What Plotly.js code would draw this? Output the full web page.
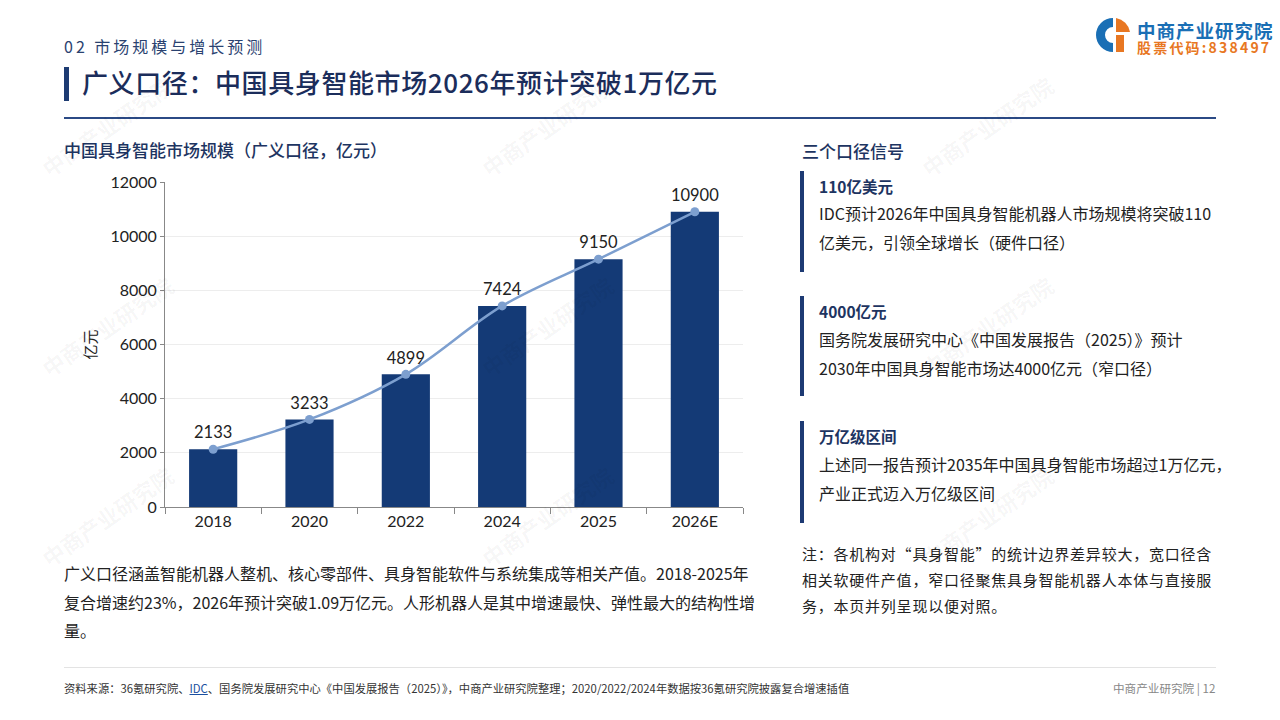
<!DOCTYPE html>
<html><head><meta charset="utf-8">
<script src="https://cdn.plot.ly/plotly-3.0.1.min.js"></script>
<style>
body{margin:0;width:1280px;height:720px;background:#fff;position:relative;overflow:hidden;font-family:"Noto Sans CJK SC","Noto Sans",sans-serif;}
.abs{position:absolute;white-space:nowrap;}
.sec{left:64px;top:35px;font-size:16px;line-height:22px;color:#2a4270;letter-spacing:3px;}
.tbar{left:64px;top:67px;width:5px;height:34px;background:#1d3b72;}
.title{left:82px;top:64px;font-size:26px;font-weight:500;color:#1b2d5b;line-height:36px;letter-spacing:0.6px;}
.rule{left:64px;top:117px;width:1152px;height:2px;background:#2b4a85;}
.sub{left:64px;top:138px;font-size:17px;line-height:24px;font-weight:500;color:#1d3461;}
.para{left:64px;top:559px;font-size:16px;color:#222;line-height:28.5px;}
.rhead{left:802px;top:139px;font-size:17px;line-height:24px;font-weight:500;color:#1d3461;}
.cbar{left:800px;width:4px;background:#1d3a73;}
.ctitle{left:819px;font-size:15.5px;line-height:22px;font-weight:700;color:#1d3461;}
.cbody{left:819px;font-size:16px;color:#222;line-height:28.5px;}
.note{left:802px;top:541px;font-size:15px;color:#222;line-height:26px;letter-spacing:0.77px;}
.frule{left:64px;top:667px;width:1152px;height:1px;background:#e3e3e3;}
.foot{left:64px;top:680px;font-size:11.3px;line-height:16px;color:#333;}
.foot u{color:#1a4fa0;}
.fright{left:1113px;top:680px;font-size:11.6px;line-height:16px;color:#888;}
.logo{left:1137px;top:22px;white-space:pre;font-size:14px;line-height:17px;font-weight:700;color:#e87722;letter-spacing:2.2px;}
.logo::first-line{font-size:18.5px;color:#1a6fb5;letter-spacing:1px;}
.wm{position:absolute;color:rgba(0,0,0,0.045);font-size:22px;font-weight:700;transform:rotate(-35deg);white-space:nowrap;}
</style></head><body>
<div class="abs sec">02 市场规模与增长预测</div>
<div class="abs tbar"></div>
<div class="abs title">广义口径：中国具身智能市场2026年预计突破1万亿元</div>
<div class="abs rule"></div>
<div class="abs sub">中国具身智能市场规模（广义口径，亿元）</div>

<svg class="abs" style="left:1094px;top:16px" width="38" height="38" viewBox="0 0 38 38">
  <path d="M19 2 A17 17 0 1 0 19 36 L19 27 A8 8 0 1 1 19 11 Z" fill="#1a6fb5"/>
  <path d="M22 2 A17 17 0 0 1 36 16 L22 16 Z" fill="#e87722"/>
  <rect x="22" y="19" width="8" height="17" fill="#e87722"/>
</svg>
<div class="abs logo">中商产业研究院
股票代码:838497</div>

<div id="chart" class="abs" style="left:60px;top:160px;width:700px;height:380px;"></div>

<div class="abs para">广义口径涵盖智能机器人整机、核心零部件、具身智能软件与系统集成等相关产值。2018-2025年<br>复合增速约23%，2026年预计突破1.09万亿元。人形机器人是其中增速最快、弹性最大的结构性增<br>量。</div>

<div class="abs rhead">三个口径信号</div>
<div class="abs cbar" style="top:171px;height:101px;"></div>
<div class="abs ctitle" style="top:175px;">110亿美元</div>
<div class="abs cbody" style="top:199px;">IDC预计2026年中国具身智能机器人市场规模将突破110<br>亿美元，引领全球增长（硬件口径）</div>
<div class="abs cbar" style="top:296px;height:100px;"></div>
<div class="abs ctitle" style="top:300px;">4000亿元</div>
<div class="abs cbody" style="top:325px;">国务院发展研究中心《中国发展报告（2025）》预计<br>2030年中国具身智能市场达4000亿元（窄口径）</div>
<div class="abs cbar" style="top:421px;height:102px;"></div>
<div class="abs ctitle" style="top:425px;">万亿级区间</div>
<div class="abs cbody" style="top:450px;">上述同一报告预计2035年中国具身智能市场超过1万亿元，<br>产业正式迈入万亿级区间</div>
<div class="abs note">注：各机构对“具身智能”的统计边界差异较大，宽口径含<br>相关软硬件产值，窄口径聚焦具身智能机器人本体与直接服<br>务，本页并列呈现以便对照。</div>

<div class="abs frule"></div>
<div class="abs foot">资料来源：36氪研究院、<u>IDC</u>、国务院发展研究中心《中国发展报告（2025）》，中商产业研究院整理；2020/2022/2024年数据按36氪研究院披露复合增速插值</div>
<div class="abs fright">中商产业研究院 | 12</div>

<script>
const categories = ["2018","2020","2022","2024","2025","2026E"];
const marketSize = [2133,3233,4899,7424,9150,10900];
const yTicks = [0,2000,4000,6000,8000,10000,12000];
const yTitle = "亿元";

// faint watermarks (interior only)
(function(){
  const spots=[[30,110],[470,110],[910,110],[30,310],[470,310],[910,310],[30,500],[470,500],[910,500]];
  spots.forEach(p=>{const d=document.createElement('div');d.className='wm';d.style.left=p[0]+'px';d.style.top=p[1]+'px';d.textContent='中商产业研究院';document.body.appendChild(d);});
})();

const numFont = 'Lato, "Noto Sans", sans-serif';
const traces = [
  {type:'bar', x:categories, y:marketSize, marker:{color:'#143a76'}, hoverinfo:'skip', showlegend:false},
  {type:'scatter', mode:'lines+markers+text', x:categories, y:marketSize,
   text:marketSize.map(String), textposition:'top center',
   textfont:{family:numFont,size:16.5,color:'#222'},
   line:{color:'#7d9fcf',width:2.5,shape:'spline',smoothing:1},
   marker:{color:'#7d9fcf',size:9}, showlegend:false, cliponaxis:false}
];
const layout = {
  width:700, height:380,
  margin:{l:105,r:17,t:22,b:33},
  paper_bgcolor:'rgba(0,0,0,0)', plot_bgcolor:'rgba(0,0,0,0)',
  bargap:0.5,
  font:{family:numFont,color:'#333',size:16},
  xaxis:{type:'category', showline:true, linecolor:'#888', linewidth:1,
         ticks:'outside', tickson:'boundaries', ticklen:6, tickcolor:'#888',
         tickfont:{family:numFont,size:16,color:'#222'}, showgrid:false, fixedrange:true},
  yaxis:{range:[0,12000], tickvals:yTicks, ticktext:yTicks.map(String),
         showline:true, linecolor:'#888', linewidth:1, ticks:'outside', ticklen:4, tickcolor:'#888',
         gridcolor:'#ededed', zeroline:false,
         tickfont:{family:numFont,size:16,color:'#222'},
         title:{text:yTitle, standoff:10, font:{family:'"Noto Sans CJK SC",sans-serif',size:15,color:'#222'}}}
};
Plotly.newPlot('chart', traces, layout, {displayModeBar:false, staticPlot:true});
</script>
</body></html>
